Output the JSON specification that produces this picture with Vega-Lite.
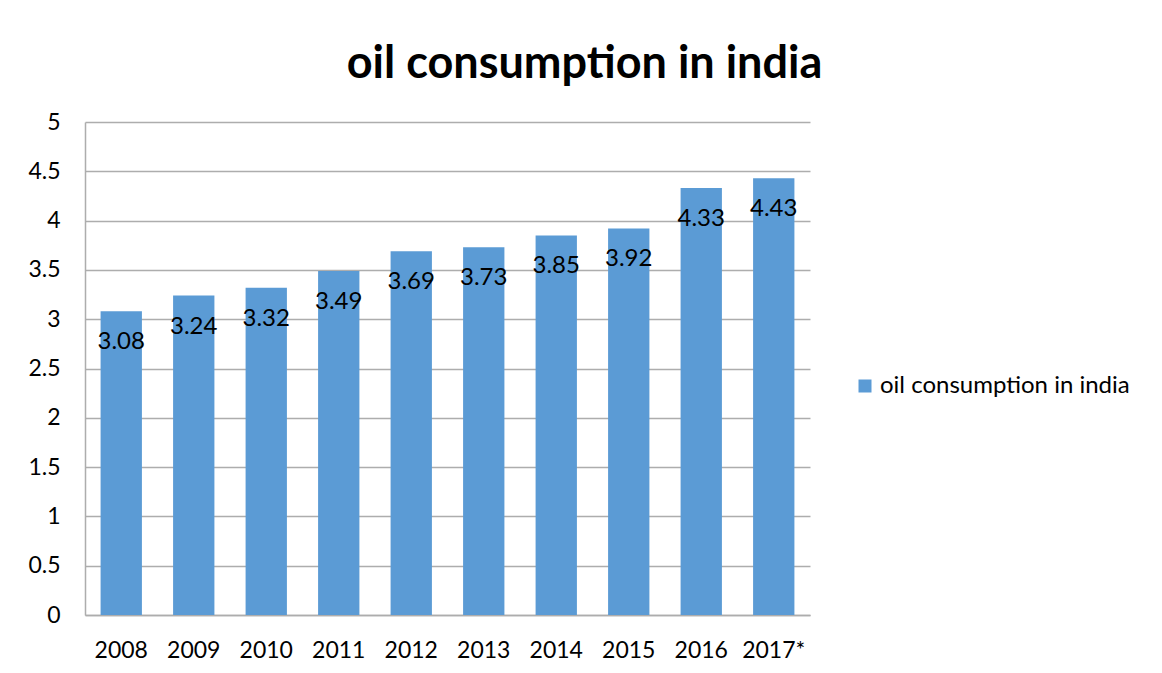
{
  "$schema": "https://vega.github.io/schema/vega-lite/v6.json",
  "width": 725,
  "height": 493,
  "autosize": "none",
  "padding": {"left": 85, "top": 122, "right": 352, "bottom": 58},
  "background": "white",
  "title": {
    "text": "oil consumption in india",
    "font": "Lato",
    "fontSize": 45,
    "fontWeight": "bold",
    "color": "#000000",
    "anchor": "middle",
    "dx": 137,
    "offset": 24
  },
  "config": {
    "view": {"stroke": null},
    "font": "Lato"
  },
  "data": {
    "values": [
      {"year": "2008", "value": 3.08, "series": "oil consumption in india"},
      {"year": "2009", "value": 3.24, "series": "oil consumption in india"},
      {"year": "2010", "value": 3.32, "series": "oil consumption in india"},
      {"year": "2011", "value": 3.49, "series": "oil consumption in india"},
      {"year": "2012", "value": 3.69, "series": "oil consumption in india"},
      {"year": "2013", "value": 3.73, "series": "oil consumption in india"},
      {"year": "2014", "value": 3.85, "series": "oil consumption in india"},
      {"year": "2015", "value": 3.92, "series": "oil consumption in india"},
      {"year": "2016", "value": 4.33, "series": "oil consumption in india"},
      {"year": "2017*", "value": 4.43, "series": "oil consumption in india"}
    ]
  },
  "encoding": {
    "x": {
      "field": "year",
      "type": "nominal",
      "sort": null,
      "scale": {"paddingInner": 0.43, "paddingOuter": 0.215},
      "axis": {
        "title": null,
        "labelAngle": 0,
        "labelFont": "Lato",
        "labelFontSize": 23,
        "labelColor": "#000000",
        "labelPadding": 24,
        "ticks": false,
        "domainColor": "#ADADAD",
        "domainWidth": 1.5
      }
    },
    "y": {
      "field": "value",
      "type": "quantitative",
      "scale": {"domain": [0, 5]},
      "axis": {
        "title": null,
        "values": [0, 0.5, 1, 1.5, 2, 2.5, 3, 3.5, 4, 4.5, 5],
        "format": ".1~f",
        "labelFont": "Lato",
        "labelFontSize": 23,
        "labelColor": "#000000",
        "labelPadding": 25,
        "ticks": false,
        "domainColor": "#ADADAD",
        "domainWidth": 1.5,
        "gridColor": "#ADADAD",
        "gridWidth": 1.5
      }
    }
  },
  "layer": [
    {
      "mark": {"type": "bar", "color": "#5B9BD5"},
      "encoding": {
        "color": {
          "field": "series",
          "type": "nominal",
          "scale": {"range": ["#5B9BD5"]},
          "legend": {
            "title": null,
            "orient": "none",
            "legendX": 768,
            "legendY": 252,
            "symbolType": "square",
            "symbolSize": 169,
            "symbolStrokeWidth": 0,
            "symbolOpacity": 1,
            "labelFont": "Lato",
            "labelFontSize": 24,
            "labelLimit": 400,
            "labelColor": "#000000",
            "labelOffset": 3
          }
        }
      }
    },
    {
      "mark": {"type": "text", "font": "Lato", "fontSize": 24, "color": "#000000", "baseline": "middle", "align": "center", "dy": 31},
      "encoding": {
        "text": {"field": "value", "type": "quantitative", "format": ".2f"}
      }
    }
  ]
}
